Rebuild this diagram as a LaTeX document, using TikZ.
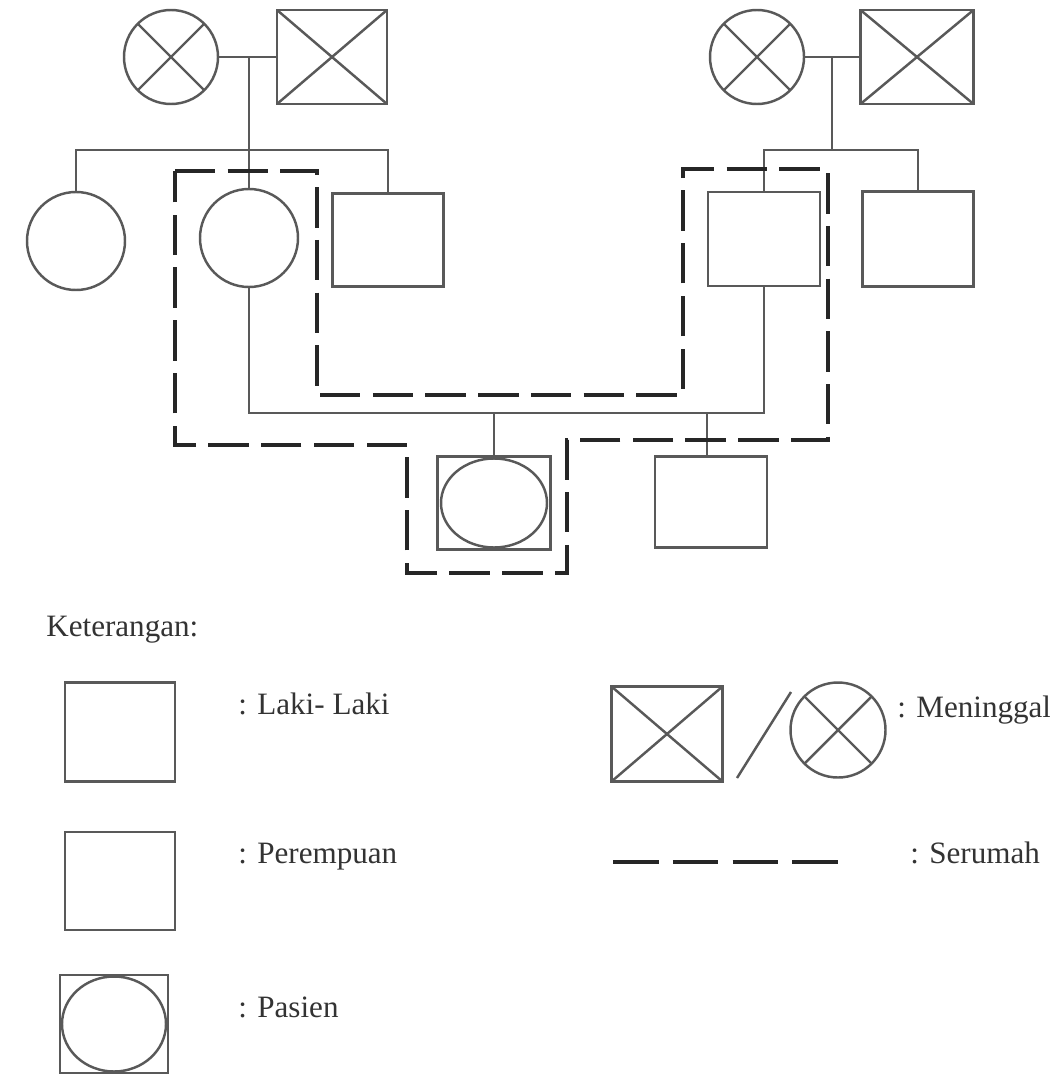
\documentclass[tikz,border=0pt]{standalone}
\usepackage{fontspec}
\setmainfont{Liberation Serif}
\begin{document}
\begin{tikzpicture}[x=0.2mm,y=-0.2mm,
  ln/.style={draw=black!65, line width=1.4pt},
  fem/.style={circle, ln, inner sep=0pt, outer sep=0pt},
  male/.style={rectangle, ln, inner sep=0pt, outer sep=0pt},
  dead/.style={path picture={\draw[ln] (path picture bounding box.north west) -- (path picture bounding box.south east) (path picture bounding box.north east) -- (path picture bounding box.south west);}},
  house/.style={draw=black!85, line width=2.3pt, dash pattern=on 23pt off 7pt},
  houselg/.style={draw=black!85, line width=2.3pt, dash pattern=on 26pt off 8pt},
  lbl/.style={anchor=base west, inner sep=0pt, font=\fontsize{17.7}{20}\selectfont, text=black!80}
]
\useasboundingbox (0,0) rectangle (1049,1078);

% ---------- left grandparents ----------
\node[fem, dead, minimum size=18.8mm] (gfL) at (171,57) {};
\node[male, dead, minimum width=22mm, minimum height=18.8mm] (gmL) at (332,57) {};
\coordinate (mL) at (249,57);
\coordinate (sibL) at (249,150);
\draw[ln] (gfL.east) -- (gmL.west);

% ---------- left children ----------
\node[fem, minimum size=19.6mm] (c1) at (76,241) {};
\node[fem, minimum size=19.6mm] (c2) at (249,238) {};
\node[male, minimum width=22.2mm, minimum height=18.6mm] (c3) at (388,240) {};
\draw[ln] (mL) -- (c2.north);
\draw[ln] (c1.north) |- (sibL) -| (c3.north);

% ---------- right grandparents ----------
\node[fem, dead, minimum size=18.8mm] (gfR) at (757,57) {};
\node[male, dead, minimum width=22.6mm, minimum height=18.8mm] (gmR) at (917,57) {};
\coordinate (mR) at (832,57);
\coordinate (sibR) at (832,150);
\draw[ln] (gfR.east) -- (gmR.west);
\draw[ln] (mR) -- (sibR);

% ---------- right children ----------
\node[male, minimum width=22.4mm, minimum height=18.8mm] (r1) at (764,239) {};
\node[male, minimum width=22.2mm, minimum height=19mm] (r2) at (918,239) {};
\draw[ln] (r1.north) |- (sibR) -| (r2.north);

% ---------- third generation ----------
\coordinate (cp) at (494,413);
\coordinate (d2) at (707,413);
\node[male, minimum width=22.6mm, minimum height=18.6mm] (pt) at (494,503) {};
\draw[ln] (pt.center) ellipse [x radius=10.6mm, y radius=8.9mm];
\node[male, minimum width=22.4mm, minimum height=18.2mm] (ch2) at (711,502) {};
\draw[ln] (c2.south) |- (cp) -| (r1.south);
\draw[ln] (cp) -- (pt.north);
\draw[ln] (d2) -- (d2 |- ch2.north);

% ---------- household (serumah) ----------
\draw[house] (175,171) -- (317,171) -- (317,395) -- (683,395) -- (683,169)
  -- (828,169) -- (828,440) -- (567,440) -- (567,573) -- (407,573)
  -- (407,445) -- (175,445) -- cycle;

% ---------- legend ----------
\node[lbl] (ket) at (46,636) {Keterangan:};

\node[male, minimum width=22mm, minimum height=19.8mm] (lm) at (120,732) {};
\node[lbl] (tlm) at (238,714) {: Laki- Laki};

\node[male, minimum width=22mm, minimum height=19.6mm] (lf) at (120,881) {};
\node[lbl] (tlf) at (238,863) {: Perempuan};

\node[male, minimum width=21.6mm, minimum height=19.6mm] (lp) at (114,1024) {};
\draw[ln] (lp.center) ellipse [x radius=10.4mm, y radius=9.5mm];
\node[lbl] (tlp) at (238,1017) {: Pasien};

\node[male, dead, minimum width=22.2mm, minimum height=19mm] (ld1) at (667,734) {};
\node[fem, dead, minimum size=19mm] (ld2) at (838,730) {};
\coordinate (sl1) at (737,778);
\coordinate (sl2) at (791,692);
\draw[ln] (sl1) -- (sl2);
\node[lbl] (tld) at (897,717) {: Meninggal};

\coordinate (hs1) at (613,862);
\coordinate (hs2) at (848,862);
\draw[houselg] (hs1) -- (hs2);
\node[lbl] (tlh) at (910,863) {: Serumah};
\end{tikzpicture}
\end{document}
